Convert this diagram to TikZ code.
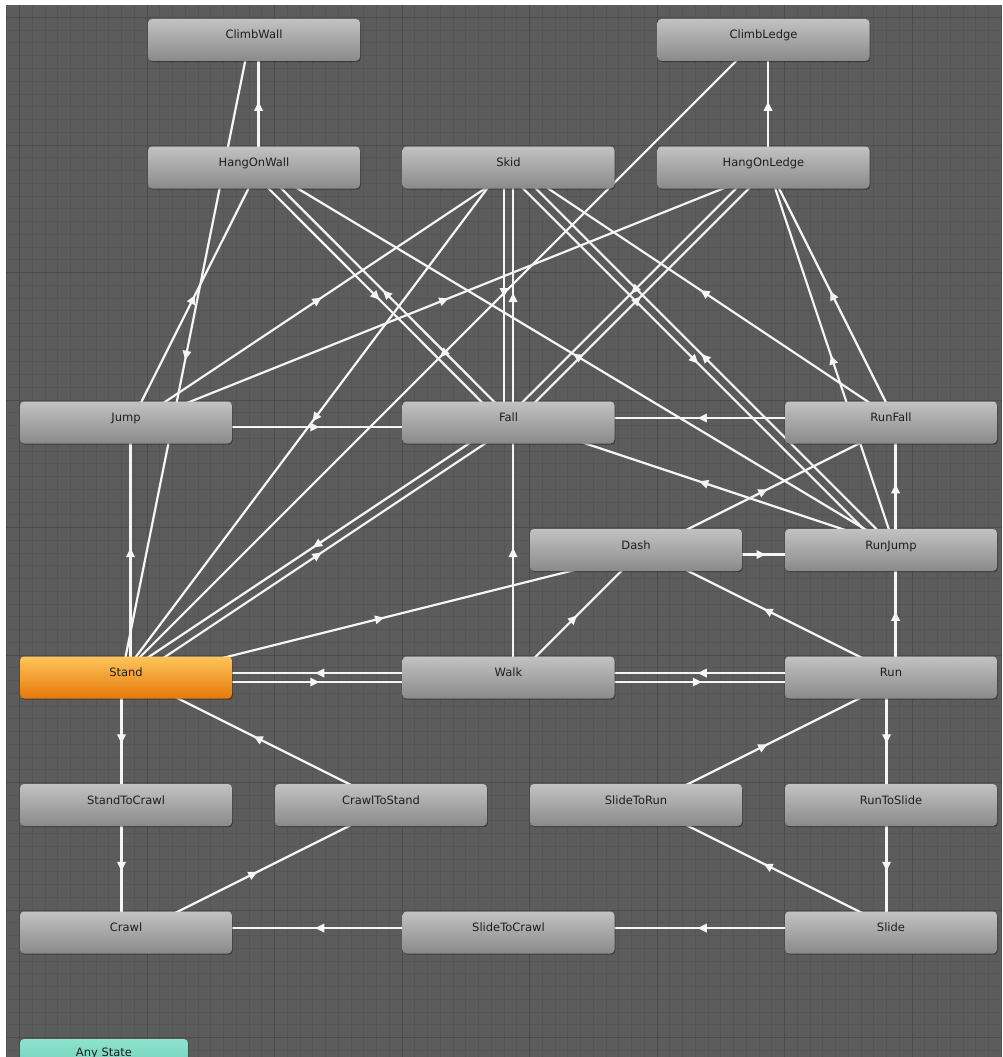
\documentclass[tikz,border=0pt]{standalone}
\usepackage{fontspec}
\newfontfamily\uifont{DejaVu Sans}
\usetikzlibrary{calc,decorations.markings,shadows}
\definecolor{bgcol}{RGB}{92,92,92}
\definecolor{minorcol}{RGB}{85,85,85}
\definecolor{majorcol}{RGB}{75,75,75}
\definecolor{nodetop}{RGB}{194,194,194}
\definecolor{nodebot}{RGB}{138,138,138}
\definecolor{standtop}{RGB}{253,197,92}
\definecolor{standbot}{RGB}{230,120,8}
\definecolor{anytop}{RGB}{142,226,206}
\definecolor{anybot}{RGB}{100,200,178}
\definecolor{edgecol}{RGB}{245,245,245}
\definecolor{txtcol}{RGB}{30,30,30}
\pgfdeclarelayer{grid}
\pgfdeclarelayer{edges}
\pgfsetlayers{grid,edges,main}
\tikzset{
  state/.style={rectangle, rounded corners=4pt, minimum width=212pt, minimum height=42pt,
    inner sep=0pt, top color=nodetop, bottom color=nodebot, text=txtcol,
    font=\uifont\fontsize{11.5}{12}\selectfont, text height=8pt, text depth=10pt,
    drop shadow={shadow xshift=0.8pt, shadow yshift=-1.2pt, opacity=0.35, fill=black}},
  entrystate/.style={state, top color=standtop, bottom color=standbot},
  anystate/.style={state, minimum width=168pt, top color=anytop, bottom color=anybot, text depth=16pt},
  trans/.style={draw=edgecol, line width=2.2pt, postaction={decorate},
    decoration={markings, mark=at position 0.5 with {\fill[edgecol] (2pt,0pt) -- (-7pt,4.5pt) -- (-7pt,-4.5pt) -- cycle;}}},
  gridminor/.style={draw=minorcol, line width=1pt},
  gridmajor/.style={draw=majorcol, line width=1pt}
}
\newcommand\anitrans[2]{\draw[trans] ($(#1.center)!4.5pt!-90:(#2.center)$) -- ($(#2.center)!4.5pt!90:(#1.center)$);}
\begin{document}
\begin{tikzpicture}[x=1pt,y=-1pt]
\useasboundingbox (0,0) rectangle (1002,1057);
\begin{pgfonlayer}{grid}
\fill[white] (0,0) rectangle (1002,1057);
\fill[bgcol] (6,5) rectangle (1002,1057);
\foreach \i in {0,...,78} \draw[gridminor] ({6.75+12.75*\i},5) -- ({6.75+12.75*\i},1057);
\foreach \j in {0,...,81} \draw[gridminor] (6,{17.5+12.75*\j}) -- (1002,{17.5+12.75*\j});
\foreach \k in {0,...,7} \draw[gridmajor] ({19.5+127.5*\k},5) -- ({19.5+127.5*\k},1057);
\foreach \k in {0,...,8} \draw[gridmajor] (6,{17.5+127.5*\k}) -- (1002,{17.5+127.5*\k});
\end{pgfonlayer}

\node[state] (ClimbWall) at (254,40) {ClimbWall};
\node[state] (ClimbLedge) at (763.5,40) {ClimbLedge};
\node[state] (HangOnWall) at (254,167.5) {HangOnWall};
\node[state] (Skid) at (508.5,167.5) {Skid};
\node[state] (HangOnLedge) at (763.5,167.5) {HangOnLedge};
\node[state] (Jump) at (126,422.5) {Jump};
\node[state] (Fall) at (508.5,422.5) {Fall};
\node[state] (RunFall) at (891,422.5) {RunFall};
\node[state] (Dash) at (636,550) {Dash};
\node[state] (RunJump) at (891,550) {RunJump};
\node[entrystate] (Stand) at (126,677.5) {Stand};
\node[state] (Walk) at (508.5,677.5) {Walk};
\node[state] (Run) at (891,677.5) {Run};
\node[state] (StandToCrawl) at (126,805) {StandToCrawl};
\node[state] (CrawlToStand) at (381,805) {CrawlToStand};
\node[state] (SlideToRun) at (636,805) {SlideToRun};
\node[state] (RunToSlide) at (891,805) {RunToSlide};
\node[state] (Crawl) at (126,932.5) {Crawl};
\node[state] (SlideToCrawl) at (508.5,932.5) {SlideToCrawl};
\node[state] (Slide) at (891,932.5) {Slide};
\node[anystate] (AnyState) at (104,1060) {Any State};

\begin{pgfonlayer}{edges}
\anitrans{HangOnWall}{ClimbWall}
\anitrans{HangOnLedge}{ClimbLedge}
\anitrans{ClimbWall}{Stand}
\anitrans{ClimbLedge}{Stand}
\anitrans{Jump}{HangOnWall}
\anitrans{Jump}{Skid}
\anitrans{Jump}{HangOnLedge}
\anitrans{Jump}{Fall}
\anitrans{Stand}{Jump}
\anitrans{HangOnWall}{Fall}
\anitrans{Fall}{HangOnWall}
\anitrans{RunJump}{HangOnWall}
\anitrans{Skid}{Fall}
\anitrans{Fall}{Skid}
\anitrans{Skid}{RunJump}
\anitrans{RunJump}{Skid}
\anitrans{RunFall}{Skid}
\anitrans{Skid}{Stand}
\anitrans{HangOnLedge}{Fall}
\anitrans{Fall}{HangOnLedge}
\anitrans{RunFall}{HangOnLedge}
\anitrans{RunJump}{HangOnLedge}
\anitrans{RunFall}{Fall}
\anitrans{RunJump}{Fall}
\anitrans{Fall}{Stand}
\anitrans{Stand}{Fall}
\anitrans{Walk}{Fall}
\anitrans{Dash}{RunJump}
\anitrans{Dash}{RunFall}
\anitrans{RunJump}{RunFall}
\anitrans{Run}{RunJump}
\anitrans{Walk}{Dash}
\anitrans{Stand}{Dash}
\anitrans{Run}{Dash}
\anitrans{Stand}{Walk}
\anitrans{Walk}{Stand}
\anitrans{Walk}{Run}
\anitrans{Run}{Walk}
\anitrans{Stand}{StandToCrawl}
\anitrans{StandToCrawl}{Crawl}
\anitrans{CrawlToStand}{Stand}
\anitrans{Crawl}{CrawlToStand}
\anitrans{Run}{RunToSlide}
\anitrans{RunToSlide}{Slide}
\anitrans{Slide}{SlideToRun}
\anitrans{SlideToRun}{Run}
\anitrans{Slide}{SlideToCrawl}
\anitrans{SlideToCrawl}{Crawl}
\end{pgfonlayer}
\end{tikzpicture}
\end{document}
